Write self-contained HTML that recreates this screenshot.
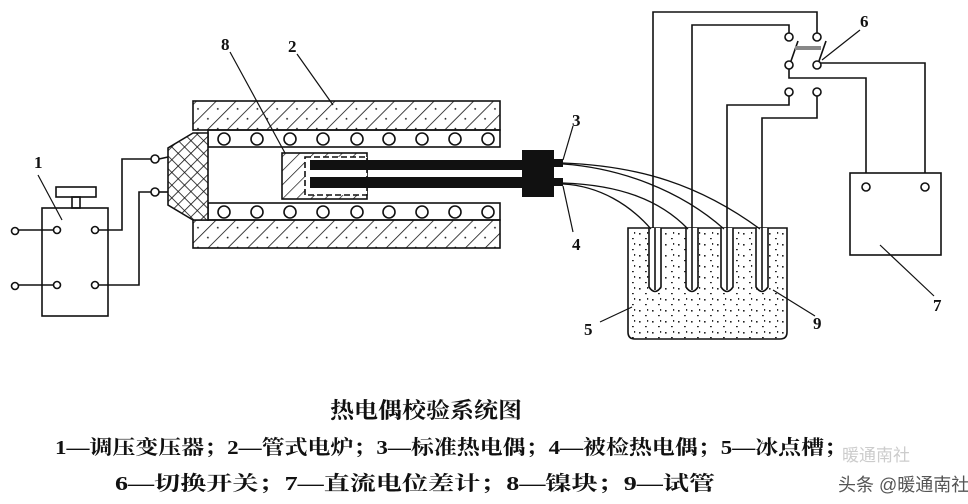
<!DOCTYPE html>
<html><head><meta charset="utf-8"><style>
html,body{margin:0;padding:0;background:#fff;}
svg{display:block}
</style></head><body>
<svg width="968" height="504" viewBox="0 0 968 504" xmlns="http://www.w3.org/2000/svg" font-family="Liberation Serif, Noto Serif CJK SC, serif">
<defs>
<pattern id="hatch" width="14" height="14" patternUnits="userSpaceOnUse" patternTransform="rotate(45)">
<rect width="14" height="14" fill="#fff"/><line x1="0" y1="0" x2="0" y2="14" stroke="#111" stroke-width="1.6"/><circle cx="7" cy="7" r="0.9" fill="#111"/>
</pattern>
<pattern id="cross" width="9" height="9" patternUnits="userSpaceOnUse" patternTransform="rotate(45)">
<rect width="9" height="9" fill="#fff"/><line x1="0" y1="0" x2="9" y2="0" stroke="#111" stroke-width="1.6"/><line x1="0" y1="0" x2="0" y2="9" stroke="#111" stroke-width="1.6"/>
</pattern>
<pattern id="hatch2" width="10" height="10" patternUnits="userSpaceOnUse" patternTransform="rotate(45)">
<rect width="10" height="10" fill="#fff"/><line x1="0" y1="0" x2="0" y2="10" stroke="#111" stroke-width="1.4"/>
</pattern>
<pattern id="dots" width="13" height="11" patternUnits="userSpaceOnUse">
<rect width="13" height="11" fill="#fff"/><rect x="2" y="2" width="1.6" height="1.6" fill="#222"/><rect x="8" y="7" width="1.8" height="1.2" fill="#222"/><rect x="10" y="1" width="1.2" height="1.8" fill="#222"/>
</pattern>
</defs>
<g fill="none" stroke="#111" stroke-width="1.6">
<rect x="42" y="208" width="66" height="108" fill="#fff"/>
<rect x="56" y="187" width="40" height="10"/>
<rect x="72" y="197" width="8" height="11"/>
<line x1="18" y1="230" x2="54" y2="230"/><line x1="18" y1="285" x2="54" y2="285"/>
<circle cx="15" cy="231" r="3.5" fill="#fff"/><circle cx="15" cy="286" r="3.5" fill="#fff"/>
<circle cx="57" cy="230" r="3.5" fill="#fff"/><circle cx="57" cy="285" r="3.5" fill="#fff"/>
<circle cx="95" cy="230" r="3.5" fill="#fff"/><circle cx="95" cy="285" r="3.5" fill="#fff"/>
<polyline points="99,230 122,230 122,159 151,159"/>
<polyline points="99,285 139,285 139,192 151,192"/>
<circle cx="155" cy="159" r="4" fill="#fff"/><circle cx="155" cy="192" r="4" fill="#fff"/>
<line x1="159" y1="159" x2="168" y2="157"/><line x1="159" y1="192" x2="168" y2="192"/>
<line x1="38" y1="175" x2="62" y2="220" stroke-width="1.2"/>
<rect x="193" y="101" width="307" height="29" fill="url(#hatch)"/>
<rect x="193" y="220" width="307" height="28" fill="url(#hatch)"/>
<rect x="208" y="130" width="292" height="17"/>
<rect x="208" y="203" width="292" height="17"/>
<polygon points="193,133 208,133 208,220 193,220 168,205 168,148" fill="url(#cross)"/>
<g fill="#fff">
<circle cx="224" cy="139" r="6"/><circle cx="257" cy="139" r="6"/><circle cx="290" cy="139" r="6"/><circle cx="323" cy="139" r="6"/><circle cx="357" cy="139" r="6"/><circle cx="389" cy="139" r="6"/><circle cx="422" cy="139" r="6"/><circle cx="455" cy="139" r="6"/><circle cx="488" cy="139" r="6"/>
<circle cx="224" cy="212" r="6"/><circle cx="257" cy="212" r="6"/><circle cx="290" cy="212" r="6"/><circle cx="323" cy="212" r="6"/><circle cx="357" cy="212" r="6"/><circle cx="389" cy="212" r="6"/><circle cx="422" cy="212" r="6"/><circle cx="455" cy="212" r="6"/><circle cx="488" cy="212" r="6"/>
</g>
<rect x="282" y="153" width="85" height="46" fill="url(#hatch2)"/>
<rect x="305" y="157" width="62" height="38" fill="#fff" stroke-dasharray="6,3"/>
<rect x="310" y="160" width="212" height="10" fill="#111" stroke="none"/>
<rect x="310" y="177" width="212" height="11" fill="#111" stroke="none"/>
<rect x="310" y="171" width="4" height="5" fill="#fff" stroke="none"/>
<rect x="522" y="150" width="32" height="47" fill="#111" stroke="none"/>
<rect x="553" y="159" width="10" height="8" fill="#111" stroke="none"/>
<rect x="553" y="178" width="10" height="8" fill="#111" stroke="none"/>
<line x1="230" y1="52" x2="285" y2="153" stroke-width="1.2"/>
<line x1="297" y1="54" x2="333" y2="105" stroke-width="1.2"/>
<line x1="573" y1="126" x2="563" y2="160" stroke-width="1.2"/>
<line x1="573" y1="232" x2="563" y2="186" stroke-width="1.2"/>
<path d="M628,228 L628,332 Q628,339 635,339 L780,339 Q787,339 787,332 L787,228 Z" fill="url(#dots)"/>
<g fill="#fff">
<path d="M649,228 L649,287 Q655,296 661,287 L661,228"/>
<path d="M686,228 L686,287 Q692,296 698,287 L698,228"/>
<path d="M721,228 L721,287 Q727,296 733,287 L733,228"/>
<path d="M756,228 L756,287 Q762,296 768,287 L768,228"/>
</g>
<line x1="655" y1="228" x2="655" y2="290"/><line x1="692" y1="228" x2="692" y2="290"/><line x1="727" y1="228" x2="727" y2="290"/><line x1="762" y1="228" x2="762" y2="290"/>
<path d="M563,163 C640,166 700,185 760,229" stroke-width="1.3"/>
<path d="M563,164 C620,168 680,190 724,229" stroke-width="1.3"/>
<path d="M563,183 C620,185 660,200 688,229" stroke-width="1.3"/>
<path d="M563,184 C600,186 630,205 651,229" stroke-width="1.3"/>
<polyline points="653,228 653,12 817,12 817,33"/>
<polyline points="692,228 692,25 789,25 789,33"/>
<polyline points="727,228 727,105 789,105 789,96"/>
<polyline points="762,228 762,118 817,118 817,96"/>
<circle cx="789" cy="37" r="4" fill="#fff"/><circle cx="817" cy="37" r="4" fill="#fff"/>
<circle cx="789" cy="65" r="4" fill="#fff"/><circle cx="817" cy="65" r="4" fill="#fff"/>
<circle cx="789" cy="92" r="4" fill="#fff"/><circle cx="817" cy="92" r="4" fill="#fff"/>
<line x1="791" y1="61" x2="798" y2="41"/><line x1="819" y1="61" x2="826" y2="41"/>
<rect x="795" y="46" width="26" height="4" fill="#888" stroke="none"/>
<polyline points="821,63 925,63 925,183"/>
<polyline points="789,69 789,78 866,78 866,183"/>
<rect x="850" y="173" width="91" height="82" fill="#fff"/>
<circle cx="866" cy="187" r="4" fill="#fff"/><circle cx="925" cy="187" r="4" fill="#fff"/>
<line x1="880" y1="245" x2="934" y2="296" stroke-width="1.2"/>
<line x1="860" y1="30" x2="822" y2="60" stroke-width="1.2"/>
<line x1="600" y1="322" x2="632" y2="307" stroke-width="1.2"/>
<line x1="773" y1="290" x2="815" y2="316" stroke-width="1.2"/>
</g>
<g font-size="17" fill="#111" font-weight="bold">
<text x="34" y="168">1</text>
<text x="221" y="50">8</text>
<text x="288" y="52">2</text>
<text x="572" y="126">3</text>
<text x="572" y="250">4</text>
<text x="584" y="335">5</text>
<text x="860" y="27">6</text>
<text x="933" y="311">7</text>
<text x="813" y="329">9</text>
</g>
<text x="330" y="418" font-size="22" font-weight="bold" fill="#111" textLength="192" lengthAdjust="spacingAndGlyphs">热电偶校验系统图</text>
<text x="55" y="454" font-size="20" font-weight="bold" fill="#111" textLength="792" lengthAdjust="spacingAndGlyphs">1—调压变压器；2—管式电炉；3—标准热电偶；4—被检热电偶；5—冰点槽；</text>
<text x="115" y="490" font-size="20" font-weight="bold" fill="#111" textLength="600" lengthAdjust="spacingAndGlyphs">6—切换开关；7—直流电位差计；8—镍块；9—试管</text>
<text x="842" y="461" font-size="17" fill="#ccc" font-family="Liberation Sans, Noto Sans CJK SC, sans-serif">暖通南社</text>
<text x="838" y="491" font-size="18" fill="#555" font-family="Liberation Sans, Noto Sans CJK SC, sans-serif">头条 @暖通南社</text>
</svg>
</body></html>
